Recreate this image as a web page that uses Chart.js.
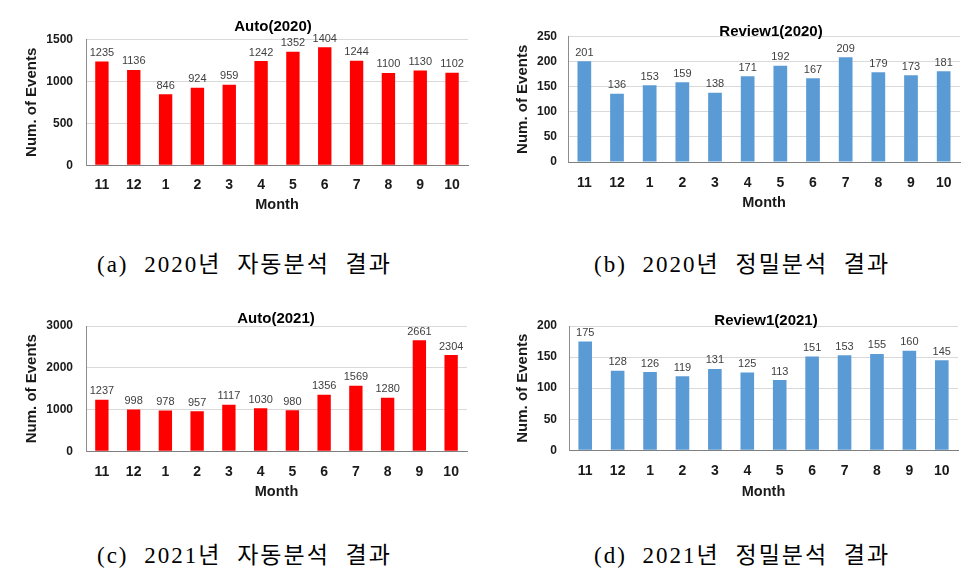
<!DOCTYPE html>
<html><head><meta charset="utf-8">
<script src="https://cdn.jsdelivr.net/npm/chart.js@4/dist/chart.umd.min.js"></script>
<style>
html,body{margin:0;padding:0;background:#fff;width:980px;height:583px;overflow:hidden;position:relative}
canvas{position:absolute}
.cap{position:absolute;font-family:"Liberation Serif","Noto Sans CJK KR",serif;font-size:23px;color:#000;white-space:pre;line-height:26px;height:26px;letter-spacing:2px;word-spacing:8px}
</style></head><body>
<canvas id="ca"></canvas><canvas id="cb"></canvas><canvas id="cc"></canvas><canvas id="cd"></canvas>
<div class="cap" id="capa"></div><div class="cap" id="capb"></div><div class="cap" id="capc"></div><div class="cap" id="capd"></div>
<script>
// ---- data ----
const months = ['11','12','1','2','3','4','5','6','7','8','9','10'];
const auto2020 = [1235,1136,846,924,959,1242,1352,1404,1244,1100,1130,1102];
const review2020 = [201,136,153,159,138,171,192,167,209,179,173,181];
const auto2021 = [1237,998,978,957,1117,1030,980,1356,1569,1280,2661,2304];
const review2021 = [175,128,126,119,131,125,113,151,153,155,160,145];
const chartTitles = ['Auto(2020)','Review1(2020)','Auto(2021)','Review1(2021)'];
const yAxisTitle = 'Num. of Events';
const xAxisTitle = 'Month';
const captions = ['(a) 2020년 자동분석 결과','(b) 2020년 정밀분석 결과','(c) 2021년 자동분석 결과','(d) 2021년 정밀분석 결과'];
const yMax = [1500,250,3000,200];
const yStep = [500,50,1000,50];

// ---- layout (page coordinates) ----
const RED = '#FF0000', BLUE = '#5B9BD5';
const panels = [
  {cid:'ca', data:auto2020,   color:RED,  top:0,   T:{x:273,y:27}, axisX:32,  l:86,  r:468, t:39.3, b:165,   tickY:185,   monthY:205,   tickR:73},
  {cid:'cb', data:review2020, color:BLUE, top:0,   T:{x:771,y:32}, axisX:523, l:568, r:960, t:36.7, b:161.7, tickY:183,   monthY:203,   tickR:557},
  {cid:'cc', data:auto2021,   color:RED,  top:290, T:{x:276,y:319},axisX:32,  l:86,  r:467, t:326,  b:451.7, tickY:472.7, monthY:492.7, tickR:73},
  {cid:'cd', data:review2021, color:BLUE, top:290, T:{x:766,y:321},axisX:523, l:569, r:958, t:326,  b:450.7, tickY:471.7, monthY:492.7, tickR:557}
];
const capPos = [{x:97,y:265},{x:594,y:265},{x:97,y:556},{x:594,y:556}];

const FONT = '"Liberation Sans", Arial, sans-serif';
const valueLabels = {
  id:'valueLabels',
  afterDatasetsDraw(chart){
    const ctx = chart.ctx, meta = chart.getDatasetMeta(0), vals = chart.data.datasets[0].data;
    ctx.save();
    ctx.font = '11px ' + FONT;
    ctx.fillStyle = '#404040';
    ctx.textAlign = 'center';
    ctx.textBaseline = 'bottom';
    meta.data.forEach((bar,i)=>ctx.fillText(String(vals[i]), bar.x, bar.y - 3));
    ctx.restore();
  }
};

panels.forEach((p,k)=>{
  const yTitleSize = 15, xTitleSize = 14.5, titleSize = 15, xTickSize = 14;
  const axisOff = yTitleSize*1.2/2 + 4;
  const C = p.axisX - axisOff;              // canvas left
  const W = 2*(p.T.x - C);                  // canvas width so title centred
  const rightGap = C + W - p.r;
  const xH = p.monthY - p.b + 4 + xTitleSize*1.2/2;
  const H = p.b + xH - p.top;
  const tTop = (p.T.y - p.top) - titleSize*1.2/2;
  const tBot = (p.t - p.top) - (tTop + titleSize*1.2);
  const cv = document.getElementById(p.cid);
  cv.width = Math.round(W); cv.height = Math.round(H);
  cv.style.left = C + 'px'; cv.style.top = p.top + 'px';
  cv.style.width = Math.round(W) + 'px'; cv.style.height = Math.round(H) + 'px';
  new Chart(cv, {
    type:'bar',
    data:{labels:months, datasets:[{data:p.data, backgroundColor:p.color, borderWidth:0, barPercentage:0.42, categoryPercentage:1}]},
    plugins:[valueLabels],
    options:{
      responsive:false, animation:false, devicePixelRatio:1,
      layout:{padding:0},
      plugins:{
        legend:{display:false}, tooltip:{enabled:false},
        title:{display:true, text:chartTitles[k], color:'#000', font:{family:FONT, size:titleSize, weight:'bold'}, padding:{top:tTop, bottom:tBot}}
      },
      scales:{
        x:{
          grid:{display:false, drawTicks:false},
          border:{display:true, color:'#7f7f7f', width:1},
          ticks:{color:'#1a1a1a', font:{family:FONT, size:xTickSize, weight:'bold'}, padding:(p.tickY - p.b) - xTickSize*1.2/2, maxRotation:0, autoSkip:false},
          title:{display:true, text:xAxisTitle, color:'#1a1a1a', font:{family:FONT, size:xTitleSize, weight:'bold'}, padding:{top:4,bottom:4}},
          afterFit(s){ s.height = xH; }
        },
        y:{
          min:0, max:yMax[k],
          grid:{color:'#d9d9d9', drawTicks:false},
          border:{display:true, color:'#8c8c8c', width:1},
          ticks:{stepSize:yStep[k], color:'#1a1a1a', font:{family:FONT, size:12, weight:'bold'}, padding:p.l - p.tickR, callback:(v)=>String(v)},
          title:{display:true, text:yAxisTitle, color:'#1a1a1a', font:{family:FONT, size:yTitleSize, weight:'bold'}, padding:{top:4,bottom:4}},
          afterFit(s){ s.width = p.l - C; }
        },
        y2:{
          position:'right', display:true,
          grid:{display:false, drawTicks:false}, border:{display:false}, ticks:{display:false},
          afterFit(s){ s.width = rightGap; }
        }
      }
    }
  });
});

captions.forEach((t,i)=>{
  const el = document.getElementById('cap' + 'abcd'[i]);
  el.textContent = t;
  el.style.left = capPos[i].x + 'px';
  el.style.top = (capPos[i].y - 13) + 'px';
});
</script>
</body></html>
